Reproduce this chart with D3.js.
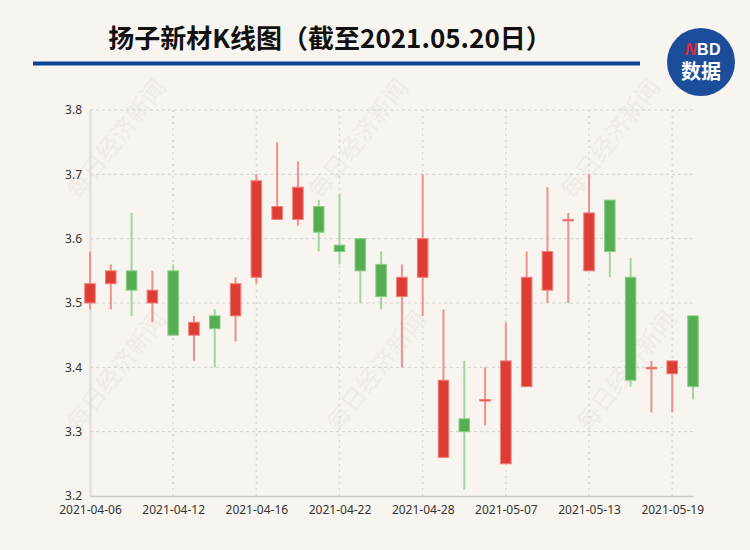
<!DOCTYPE html>
<html>
<head>
<meta charset="utf-8">
<script src="https://cdn.jsdelivr.net/npm/d3@7/dist/d3.min.js"></script>
<style>
  html, body { margin: 0; padding: 0; background: #f8f5f0; }
  svg { display: block; }
</style>
</head>
<body>
<svg id="chart" width="750" height="550"></svg>
<script>
const dates = ["2021-04-06","2021-04-07","2021-04-08","2021-04-09","2021-04-12","2021-04-13","2021-04-14","2021-04-15","2021-04-16","2021-04-19","2021-04-20","2021-04-21","2021-04-22","2021-04-23","2021-04-26","2021-04-27","2021-04-28","2021-04-29","2021-04-30","2021-05-06","2021-05-07","2021-05-10","2021-05-11","2021-05-12","2021-05-13","2021-05-14","2021-05-17","2021-05-18","2021-05-19","2021-05-20"];
const openV  = [3.50,3.53,3.55,3.50,3.55,3.45,3.48,3.48,3.54,3.63,3.63,3.65,3.59,3.60,3.56,3.51,3.54,3.26,3.32,3.35,3.25,3.37,3.52,3.63,3.55,3.66,3.54,3.40,3.39,3.48];
const closeV = [3.53,3.55,3.52,3.52,3.45,3.47,3.46,3.53,3.69,3.65,3.68,3.61,3.58,3.55,3.51,3.54,3.60,3.38,3.30,3.35,3.41,3.54,3.58,3.63,3.64,3.58,3.38,3.40,3.41,3.37];
const lowV   = [3.49,3.49,3.48,3.47,3.45,3.41,3.40,3.44,3.53,3.63,3.62,3.58,3.56,3.50,3.49,3.40,3.48,3.26,3.21,3.31,3.25,3.37,3.50,3.50,3.55,3.54,3.37,3.33,3.33,3.35];
const highV  = [3.58,3.56,3.64,3.55,3.56,3.48,3.49,3.54,3.70,3.75,3.72,3.66,3.67,3.60,3.58,3.56,3.70,3.49,3.41,3.40,3.47,3.58,3.68,3.64,3.70,3.66,3.57,3.41,3.41,3.48];
const yTicks = [3.2,3.3,3.4,3.5,3.6,3.7,3.8];
const xTickLabels = ["2021-04-06","2021-04-12","2021-04-16","2021-04-22","2021-04-28","2021-05-07","2021-05-13","2021-05-19"];
const title = "扬子新材K线图（截至2021.05.20日）";

const data = dates.map((d, i) => ({date: d, open: openV[i], close: closeV[i], low: lowV[i], high: highV[i]}));

const svg = d3.select("#chart");
const W = 750, H = 550;
const mLeft = 90, mRight = 693, mTop = 110, mBottom = 496;

svg.append("rect").attr("width", W).attr("height", H).attr("fill", "#f8f5f0");

// watermarks
const wm = [[118,140],[360,140],[612,140],[118,372],[378,372],[628,372]];
wm.forEach(([px,py]) => {
  svg.append("text").attr("x", px).attr("y", py)
    .attr("transform", `rotate(-52,${px},${py})`)
    .attr("text-anchor", "middle").attr("dominant-baseline", "middle")
    .attr("font-family", "Noto Sans CJK SC").attr("font-size", 24)
    .attr("fill", "#efebe6").text("每日经济新闻");
});

// title
svg.append("text").attr("x", 330).attr("y", 48)
  .attr("text-anchor", "middle")
  .attr("font-family", "Noto Sans CJK SC").attr("font-weight", "bold")
  .attr("font-size", 26).attr("fill", "#111").text(title);

svg.append("rect").attr("x", 33).attr("y", 61.5).attr("width", 607).attr("height", 4).attr("fill", "#0d4496");

// logo
const logo = svg.append("g").attr("transform", "translate(701,62)");
logo.append("circle").attr("r", 34).attr("fill", "#1c4d9b");
logo.append("text").attr("x", 2).attr("y", -7).attr("text-anchor", "middle")
  .attr("font-family", "Liberation Sans").attr("font-weight", "bold").attr("font-size", 16)
  .attr("letter-spacing", 0.5)
  .html('<tspan fill="#e8262b" font-style="italic">N</tspan><tspan fill="#ffffff">BD</tspan>');
logo.append("text").attr("x", 0).attr("y", 17).attr("text-anchor", "middle")
  .attr("font-family", "Noto Sans CJK SC").attr("font-weight", "bold").attr("font-size", 20)
  .attr("fill", "#ffffff").text("数据");

// scales
const x = d3.scalePoint().domain(dates).range([mLeft, mRight]);
const y = d3.scaleLinear().domain([3.2, 3.8]).range([mBottom, mTop]);

// horizontal grid
svg.append("g").selectAll("line").data(yTicks.slice(1)).join("line")
  .attr("x1", mLeft).attr("x2", mRight)
  .attr("y1", d => y(d)).attr("y2", d => y(d))
  .attr("stroke", "#cfcfcf").attr("stroke-width", 1).attr("stroke-dasharray", "3,3");

// vertical grid
svg.append("g").selectAll("line").data(xTickLabels.slice(1)).join("line")
  .attr("x1", d => x(d)).attr("x2", d => x(d))
  .attr("y1", mTop).attr("y2", mBottom)
  .attr("stroke", "#d8d8d8").attr("stroke-width", 1.5).attr("stroke-dasharray", "2,4");

// y axis
const yAxis = d3.axisLeft(y).tickValues(yTicks).tickFormat(d3.format(".1f")).tickSize(0).tickPadding(8);
const gy = svg.append("g").attr("transform", `translate(${mLeft},0)`).call(yAxis);
gy.select(".domain").attr("stroke", "#dcdcdc").attr("stroke-width", 2);
gy.selectAll("text").attr("font-family", "Noto Sans").attr("font-size", 12).attr("fill", "#333");

// x axis
const xAxis = d3.axisBottom(x).tickValues(xTickLabels).tickSize(0).tickPadding(9);
const gx = svg.append("g").attr("transform", `translate(0,${mBottom})`).call(xAxis);
gx.select(".domain").attr("stroke", "#cccccc").attr("stroke-width", 1.5);
gx.selectAll("text").attr("font-family", "Noto Sans").attr("font-size", 12).attr("fill", "#333");

// candles
const bw = 10.5;
const up = d => d.close >= d.open;
const g = svg.append("g");
g.selectAll("line.wick").data(data).join("line").attr("class", "wick")
  .attr("x1", d => x(d.date)).attr("x2", d => x(d.date))
  .attr("y1", d => y(d.high)).attr("y2", d => y(d.low))
  .attr("stroke", d => up(d) ? "#ee918c" : "#a2d49e").attr("stroke-width", 2);
g.selectAll("rect.body").data(data).join("rect").attr("class", "body")
  .attr("x", d => x(d.date) - bw / 2)
  .attr("width", bw)
  .attr("y", d => y(Math.max(d.open, d.close)))
  .attr("height", d => Math.max(1.5, Math.abs(y(d.open) - y(d.close))))
  .attr("fill", d => up(d) ? "#de3d35" : "#55ae52")
  .attr("stroke", d => up(d) ? "#ee7d77" : "#8acb86").attr("stroke-width", 1);
</script>
</body>
</html>
